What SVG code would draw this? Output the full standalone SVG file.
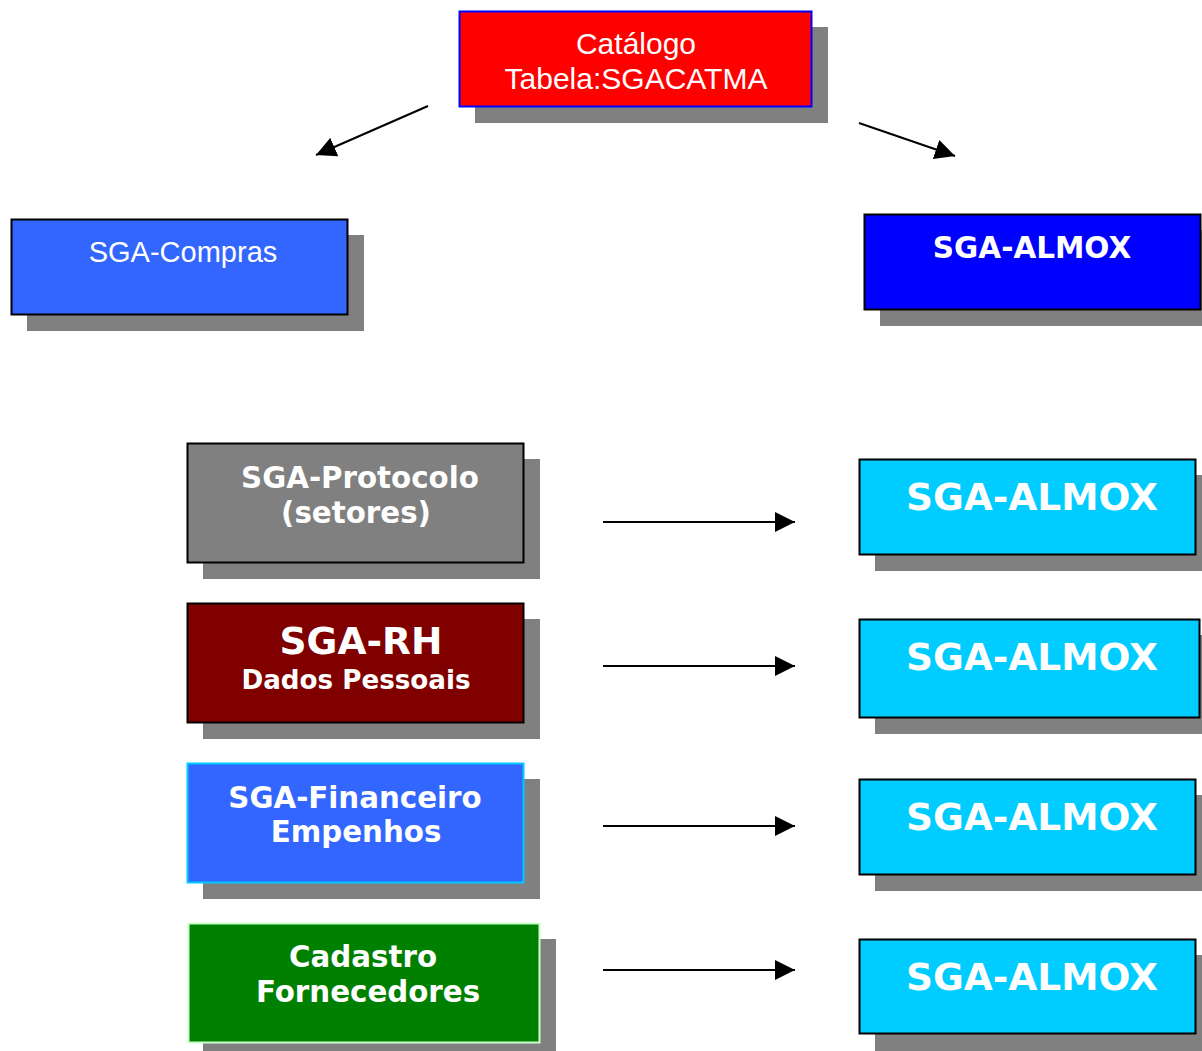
<svg xmlns="http://www.w3.org/2000/svg" width="1202" height="1051" viewBox="0 0 1202 1051">
<style>
.sh{fill:#808080}
.bx{stroke:#000;stroke-width:2}
.a{font-family:"Liberation Sans",Arial,sans-serif;fill:#fff;text-anchor:middle}
.v{font-family:Verdana,"DejaVu Sans",sans-serif;font-weight:bold;fill:#fff;text-anchor:middle}
.ln{stroke:#000;stroke-width:2;fill:none;marker-end:url(#ah)}
</style>
<defs>
<marker id="ah" markerUnits="userSpaceOnUse" markerWidth="22" markerHeight="20" refX="20" refY="10" orient="auto">
<path d="M0,0 L20,10 L0,20 Z" fill="#000"/>
</marker>
</defs>
<rect width="1202" height="1051" fill="#fff"/>
<g id="catalogo">
<rect class="sh" x="475" y="27" width="353" height="96"/>
<rect x="459.5" y="11.5" width="352" height="95" fill="#ff0000" stroke="#0000ff" stroke-width="2"/>
<text class="a" x="636" y="54" font-size="30">Catálogo</text>
<text class="a" x="636" y="89" font-size="30">Tabela:SGACATMA</text>
</g>
<g id="compras">
<rect class="sh" x="27" y="235" width="337" height="96"/>
<rect class="bx" x="11.5" y="219.5" width="336" height="95" fill="#3366ff"/>
<text class="a" x="183" y="262" font-size="29">SGA-Compras</text>
</g>
<g id="almox-top">
<rect class="sh" x="880" y="230" width="322" height="96"/>
<rect class="bx" x="864.5" y="214.5" width="336" height="95" fill="#0000ff"/>
<text class="v" x="1032" y="258" font-size="29.5">SGA-ALMOX</text>
</g>
<g id="protocolo">
<rect class="sh" x="203" y="459" width="337" height="120"/>
<rect class="bx" x="187.5" y="443.5" width="336" height="119" fill="#808080"/>
<text class="v" x="360" y="488" font-size="29.3">SGA-Protocolo</text>
<text class="v" x="356" y="523" font-size="29.3">(setores)</text>
</g>
<g id="rh">
<rect class="sh" x="203" y="619" width="337" height="120"/>
<rect class="bx" x="187.5" y="603.5" width="336" height="119" fill="#800000"/>
<text class="v" x="361" y="654" font-size="37.6">SGA-RH</text>
<text class="v" x="356" y="689" font-size="26.2">Dados Pessoais</text>
</g>
<g id="financeiro">
<rect class="sh" x="203" y="779" width="337" height="120"/>
<rect x="187.5" y="763.5" width="336" height="119" fill="#3366ff" stroke="#00ccff" stroke-width="2"/>
<text class="v" x="355" y="808" font-size="29.3">SGA-Financeiro</text>
<text class="v" x="356" y="842" font-size="29.3">Empenhos</text>
</g>
<g id="fornecedores">
<rect class="sh" x="203" y="939" width="353" height="112"/>
<rect x="188.5" y="923.5" width="351" height="119" fill="#008000" stroke="#ccffcc" stroke-width="2"/>
<text class="v" x="363" y="967" font-size="29.3">Cadastro</text>
<text class="v" x="368" y="1002" font-size="29.3">Fornecedores</text>
</g>
<g id="almox-1">
<rect class="sh" x="875" y="475" width="327" height="96"/>
<rect class="bx" x="859.5" y="459.5" width="336" height="95" fill="#00ccff"/>
<text class="v" x="1032" y="510" font-size="37.5">SGA-ALMOX</text>
</g>
<g id="almox-2">
<rect class="sh" x="875" y="635" width="327" height="99"/>
<rect class="bx" x="859.5" y="619.5" width="340" height="98" fill="#00ccff"/>
<text class="v" x="1032" y="670" font-size="37.5">SGA-ALMOX</text>
</g>
<g id="almox-3">
<rect class="sh" x="875" y="795" width="327" height="96"/>
<rect class="bx" x="859.5" y="779.5" width="336" height="95" fill="#00ccff"/>
<text class="v" x="1032" y="830" font-size="37.5">SGA-ALMOX</text>
</g>
<g id="almox-4">
<rect class="sh" x="875" y="955" width="327" height="96"/>
<rect class="bx" x="859.5" y="939.5" width="336" height="94" fill="#00ccff"/>
<text class="v" x="1032" y="990" font-size="37.5">SGA-ALMOX</text>
</g>
<g id="connectors">
<line class="ln" x1="428" y1="106" x2="316" y2="155"/>
<line class="ln" x1="859" y1="123" x2="955" y2="156"/>
<line class="ln" x1="603" y1="522" x2="795" y2="522"/>
<line class="ln" x1="603" y1="666" x2="795" y2="666"/>
<line class="ln" x1="603" y1="826" x2="795" y2="826"/>
<line class="ln" x1="603" y1="970" x2="795" y2="970"/>
</g>
</svg>
